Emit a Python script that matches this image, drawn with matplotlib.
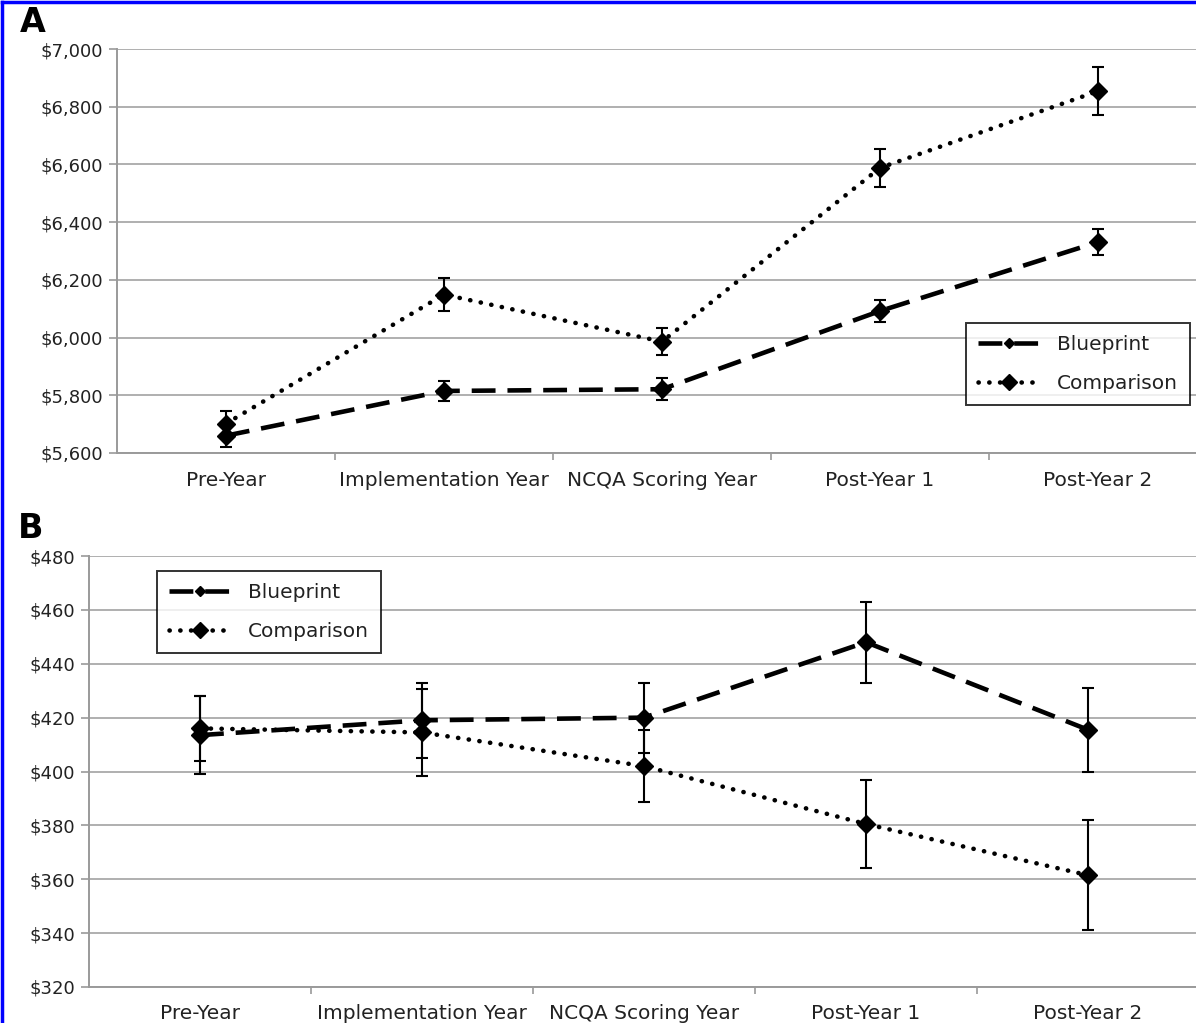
import matplotlib
matplotlib.use("Agg")
import matplotlib.pyplot as plt
from matplotlib.ticker import FuncFormatter
from matplotlib.lines import Line2D
import numpy as np

plt.rcParams['font.family'] = ['DejaVu Sans']

categories = ["Pre-Year", "Implementation Year", "NCQA Scoring Year", "Post-Year 1", "Post-Year 2"]

# Panel A
a_blueprint = [5660, 5815, 5821, 6092, 6331]
a_blueprint_err = [38, 35, 38, 38, 45]
a_comparison = [5702, 6149, 5986, 6588, 6854]
a_comparison_err = [43, 57, 47, 67, 83]
a_ticks = [5600, 5800, 6000, 6200, 6400, 6600, 6800, 7000]

# Panel B
b_blueprint = [413.5, 419, 420, 448, 415.5]
b_blueprint_err = [14.5, 14, 13, 15, 15.5]
b_comparison = [416, 414.5, 402, 380.5, 361.5]
b_comparison_err = [12, 16, 13.3, 16.5, 20.5]
b_ticks = [320, 340, 360, 380, 400, 420, 440, 460, 480]

W, H = 1196, 1023
fig = plt.figure(figsize=(W / 100, H / 100), dpi=100)

GRID = '#9a9a9a'
TXT = '#222222'
dash_style = (0, (5.2, 2.6))
dot_style = (0, (0.05, 2.3))


def make_axes(left, top, right, bottom):
    return fig.add_axes([left / W, 1 - bottom / H, (right - left) / W, (bottom - top) / H])


def style_axes(ax, ticks, fmt, ylim, xpad):
    x = np.arange(len(categories))
    ax.set_xlim(-0.5, len(categories) - 0.5)
    ax.set_ylim(*ylim)
    ax.set_yticks(ticks)
    ax.yaxis.set_major_formatter(FuncFormatter(fmt))
    ax.set_xticks(x)
    ax.set_xticklabels(categories)
    ax.set_xticks(np.arange(len(categories) - 1) + 0.5, minor=True)
    ax.tick_params(axis='x', which='major', length=0, pad=xpad, labelsize=14.5, labelcolor=TXT)
    ax.tick_params(axis='x', which='minor', length=5, width=1.2, color=GRID, direction='out')
    ax.tick_params(axis='y', length=6, width=1.2, color=GRID, pad=4, labelsize=13, labelcolor=TXT)
    for s in ['top', 'right']:
        ax.spines[s].set_visible(False)
    for s in ['left', 'bottom']:
        ax.spines[s].set_color(GRID)
        ax.spines[s].set_linewidth(1.4)
    ax.grid(axis='y', color=GRID, linewidth=1.1)
    ax.set_axisbelow(True)


def draw_series(ax, vals, errs, ls, ms):
    x = np.arange(len(categories))
    ax.errorbar(x, vals, yerr=errs, fmt='none', ecolor='black', elinewidth=1.5,
                capsize=4.5, capthick=1.5, zorder=3)
    ax.plot(x, vals, color='black', linestyle=ls, linewidth=3.3,
            dash_capstyle='round' if ls == dot_style else 'butt',
            marker='D', markersize=ms, markerfacecolor='black', markeredgecolor='black', zorder=4)


def legend_handles():
    h1 = Line2D([0], [0], color='black', linestyle=dash_style, linewidth=3.3,
                marker='D', markersize=5)
    h2 = Line2D([0], [0], color='black', linestyle=dot_style, linewidth=3.3,
                dash_capstyle='round', marker='D', markersize=8)
    return [h1, h2]


money = lambda v, p: "${:,.0f}".format(v)


def add_legend(ax, x0, y0, axw, axh, axbottom, axleft):
    leg = ax.legend(legend_handles(), ["Blueprint", "Comparison"], loc='upper left',
                    bbox_to_anchor=((x0 - axleft) / axw, (axbottom - y0) / axh),
                    fontsize=14.5, frameon=True, fancybox=False, edgecolor='black',
                    handlelength=3.1, borderpad=0.6, labelspacing=1.0, handletextpad=0.8,
                    borderaxespad=0)
    leg.get_frame().set_linewidth(1.4)
    for t in leg.get_texts():
        t.set_color(TXT)
    return leg


# Panel A
axA = make_axes(117, 49, 117 + 5 * 218, 453)
style_axes(axA, a_ticks, money, (5600, 7000), 13)
draw_series(axA, a_blueprint, a_blueprint_err, dash_style, 9.5)
draw_series(axA, a_comparison, a_comparison_err, dot_style, 9.5)
add_legend(axA, 966, 323, 1090, 404, 453, 117)

# Panel B
axB = make_axes(89, 556, 89 + 5 * 222, 987)
style_axes(axB, b_ticks, money, (320, 480), 12.5)
draw_series(axB, b_blueprint, b_blueprint_err, dash_style, 9.5)
draw_series(axB, b_comparison, b_comparison_err, dot_style, 9.5)
add_legend(axB, 157, 571, 1110, 431, 987, 89)

# Panel letters
fig.text(20 / W, 1 - 22 / H, "A", fontsize=24, fontweight='bold', va='center', ha='left')
fig.text(18 / W, 1 - 528 / H, "B", fontsize=24, fontweight='bold', va='center', ha='left')

# Blue border (left and top)
fig.add_artist(Line2D([1.5 / W, 1.5 / W], [0, 1 - 1.5 / H], color='#0000ff', linewidth=2.5,
                      transform=fig.transFigure))
fig.add_artist(Line2D([1.5 / W, 1], [1 - 1.5 / H, 1 - 1.5 / H], color='#0000ff', linewidth=2.5,
                      transform=fig.transFigure))

fig.savefig("out.png", dpi=100, facecolor='white')
